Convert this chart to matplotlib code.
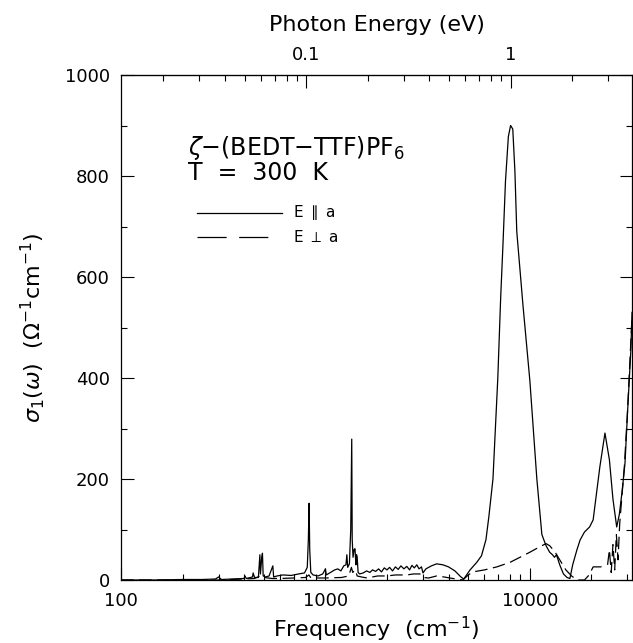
import matplotlib
matplotlib.use('Agg')
import matplotlib.pyplot as plt
from matplotlib.ticker import LogLocator, NullFormatter, MultipleLocator, FixedLocator

plt.rcParams['font.family'] = ['DejaVu Sans']
plt.rcParams['mathtext.fontset'] = 'dejavusans'
plt.rcParams['lines.scale_dashes'] = False

# ---- data: E parallel a (solid) ----
freq_par = [100, 150, 200, 250, 290, 300, 310, 350, 400, 404,
            410, 440, 443, 450, 470, 478, 481, 485, 488, 492,
            496, 510, 530, 553, 558, 580, 620, 680, 740, 790,
            815, 825, 832, 838, 848, 870, 920, 970, 1000, 1010,
            1060, 1110, 1150, 1190, 1230, 1260, 1273, 1285, 1310, 1330,
            1345, 1352, 1365, 1380, 1395, 1410, 1420, 1430, 1445, 1470,
            1530, 1590, 1650, 1700, 1760, 1820, 1880, 1940, 2000, 2060,
            2130, 2200, 2270, 2340, 2420, 2500, 2580, 2650, 2720, 2800,
            2870, 2950, 3000, 3100, 3300, 3500, 3760, 4000, 4300, 4600,
            4750, 4900, 5100, 5500, 5800, 6100, 6300, 6600, 6970, 7200,
            7380, 7600, 7850, 8050, 8250, 8450, 8630, 9250, 10000, 10820,
            11450, 12000, 12500, 12900, 13200, 13500, 14000, 14600, 15200, 15700,
            16200, 17000, 17600, 18500, 19600, 20400, 22000, 23300, 24500, 25500,
            26600, 27400, 28200, 29200, 30100, 31200, 31600]
sigma_par = [0, 0, 1, 1, 2, 6, 1, 2, 3, 8,
             3, 6, 14, 5, 5, 50, 12, 30, 45, 53,
             8, 6, 8, 28, 6, 8, 10, 9, 12, 14,
             25, 80, 152, 60, 15, 10, 8, 12, 22, 10,
             15, 20, 22, 18, 28, 30, 50, 25, 32, 100,
             279, 80, 45, 60, 62, 30, 50, 45, 15, 12,
             14, 18, 15, 20, 17, 22, 16, 24, 20, 25,
             18, 26, 21, 28, 22, 27, 20, 29, 24, 30,
             22, 26, 14, 22, 28, 32, 30, 26, 18, 6,
             2, 10, 20, 35, 48, 80, 125, 200, 400, 560,
             660, 790, 878, 900, 893, 810, 690, 545, 395, 200,
             90, 68, 55, 50, 45, 50, 30, 12, 5, 3,
             30, 60, 79, 95, 105, 119, 224, 291, 238, 160,
             105, 130, 172, 231, 337, 455, 530]

# ---- data: E perpendicular a (dashed) ----
freq_perp = [100, 200, 300, 400, 450, 480, 500, 550, 600, 700,
             800, 830, 850, 1000, 1200, 1300, 1340, 1360, 1400, 1430,
             1500, 1600, 1800, 2000, 2200, 2500, 2700, 2900, 3000, 3200,
             3500, 3800, 4200, 4700, 5000, 5250, 6000, 6900, 8000, 8950,
             10000, 11200, 12000, 12500, 13300, 14000, 15000, 16000, 17000, 18500,
             19500, 20400, 22400, 23000]
sigma_perp = [0, 0, 0, 2, 3, 8, 5, 3, 3, 4,
              5, 10, 4, 4, 5, 8, 25, 15, 20, 8,
              6, 4, 8, 8, 10, 10, 12, 12, 5, 4,
              8, 6, 3, 0, 10, 16, 20, 26, 35, 45,
              55, 66, 72, 68, 55, 40, 20, 8, 0, 0,
              10, 26, 26, 24]
freq_perp_hi = [24000, 24500, 25000, 25500, 26000, 26500, 27000, 27500, 28000, 29000,
                30000, 31000, 31600]
sigma_perp_hi = [30, 60, 15, 70, 20, 90, 40, 110, 150, 225,
                 330, 450, 520]

x_ticks = [100, 1000, 10000]
x_ticklabels = ['100', '1000', '10000']
y_ticks = [0, 200, 400, 600, 800, 1000]
ev_ticks = [0.1, 1]
ev_ticklabels = ['0.1', '1']
CM_PER_EV = 8065.54

fig = plt.figure(figsize=(6.33, 6.43), dpi=100)
ax = fig.add_axes([121 / 633, 1 - 580 / 643, 511 / 633, 505 / 643])
ax.set_xscale('log')
ax.set_xlim(100, 31600)
ax.set_ylim(0, 1000)

ax.plot(freq_par, sigma_par, color='black', lw=0.9)
ax.plot(freq_perp, sigma_perp, color='black', lw=0.9, linestyle=(0, (9, 4)))
ax.plot(freq_perp_hi, sigma_perp_hi, color='black', lw=0.9, linestyle=(0, (9, 4)))

ax.set_xticks(x_ticks)
ax.set_xticklabels(x_ticklabels)
ax.xaxis.set_minor_locator(LogLocator(base=10, subs=range(2, 10)))
ax.xaxis.set_minor_formatter(NullFormatter())
ax.set_yticks(y_ticks)
ax.yaxis.set_minor_locator(MultipleLocator(100))
ax.tick_params(which='both', direction='in', top=False, right=True,
               labelsize=13, width=0.8)
ax.tick_params(axis='x', which='major', length=9, pad=9)
ax.tick_params(axis='y', which='major', length=9, pad=8)
ax.tick_params(which='minor', length=4)
for s in ax.spines.values():
    s.set_linewidth(0.9)

ax.set_xlabel(r'Frequency  (cm$^{-1}$)', fontsize=16)
ax.set_ylabel(r'$\sigma_1(\omega)$  ($\Omega^{-1}$cm$^{-1}$)', fontsize=16)
ax.xaxis.set_label_coords(0.5, -0.068)
ax.yaxis.set_label_coords(-0.145, 0.5)

secax = ax.secondary_xaxis('top', functions=(lambda f: f / CM_PER_EV,
                                             lambda e: e * CM_PER_EV))
secax.xaxis.set_major_locator(FixedLocator(ev_ticks))
secax.set_xticklabels(ev_ticklabels)
secax.xaxis.set_minor_locator(LogLocator(base=10, subs=range(2, 10)))
secax.xaxis.set_minor_formatter(NullFormatter())
secax.tick_params(which='both', direction='in', labelsize=13, width=0.8)
secax.tick_params(which='major', length=9, pad=8)
secax.tick_params(which='minor', length=4)
secax.set_xlabel('Photon Energy (eV)', fontsize=16, labelpad=11)

# annotations
ax.text(0.131, 0.855, r'$\zeta$$-$(BEDT$-$TTF)PF$_6$', transform=ax.transAxes,
        fontsize=17, va='center', ha='left')
ax.text(0.131, 0.806, 'T  =  300  K', transform=ax.transAxes,
        fontsize=17, va='center', ha='left')
ax.plot([0.149, 0.315], [0.727, 0.727], transform=ax.transAxes, color='black', lw=0.9)
ax.plot([0.149, 0.302], [0.679, 0.679], transform=ax.transAxes, color='black', lw=0.9,
        linestyle=(0, (21, 9)))
ax.text(0.336, 0.727, r'E $\parallel$ a', transform=ax.transAxes, fontsize=11,
        va='center', ha='left')
ax.text(0.336, 0.679, r'E $\perp$ a', transform=ax.transAxes, fontsize=11,
        va='center', ha='left')

fig.savefig('out.png', dpi=100)
